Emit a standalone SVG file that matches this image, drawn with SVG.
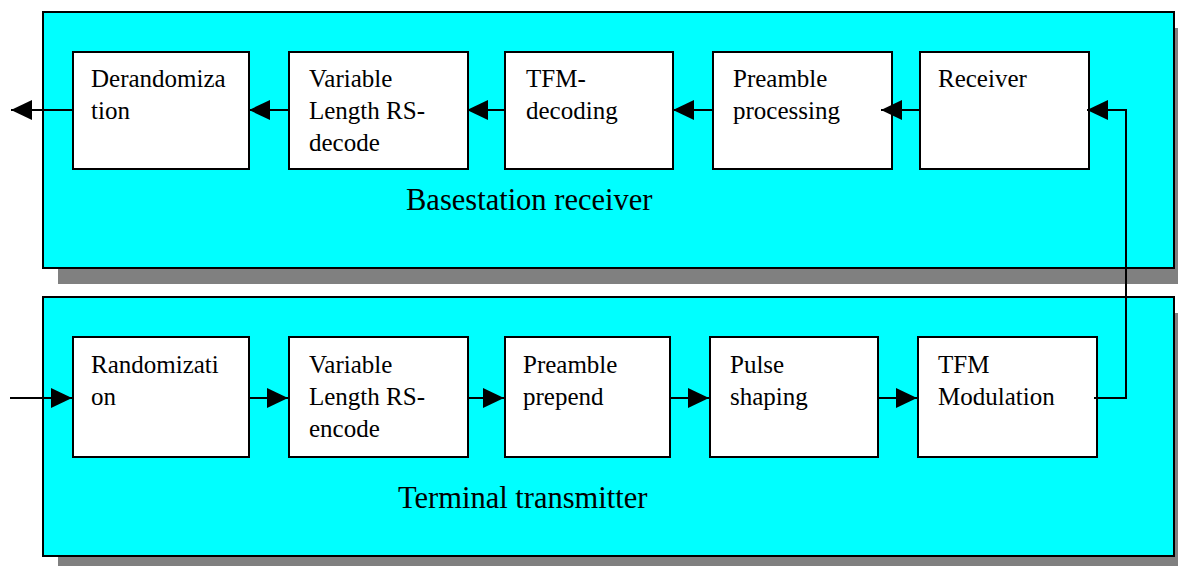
<svg xmlns="http://www.w3.org/2000/svg" width="1178" height="566" viewBox="0 0 1178 566">
<style>
.shadow{fill:#808080;stroke:none}
.panel{fill:#00FFFF;stroke:#000;stroke-width:2}
.box{fill:#fff;stroke:#000;stroke-width:2}
.t{font-size:25px;fill:#000}
.pl{font-size:30.5px;fill:#000}
.c{fill:none;stroke:#000;stroke-width:2}
</style>
<defs>
<marker id="ah" markerUnits="userSpaceOnUse" markerWidth="21" markerHeight="20" refX="21" refY="10" orient="auto" viewBox="0 0 21 20">
<path d="M0,0 L21,10 L0,20 z" fill="#000"/>
</marker>
</defs>
<rect width="1178" height="566" fill="#fff"/>
<g font-family="Liberation Serif, Tinos, DejaVu Serif, serif">
<g id="panel-receiver">
<rect class="shadow" x="58" y="28" width="1131" height="256"/>
<rect class="panel" x="43" y="12" width="1131" height="256"/>
<text class="pl" x="406" y="210">Basestation receiver</text>
</g>
<g id="panel-transmitter">
<rect class="shadow" x="58" y="313" width="1131" height="259"/>
<rect class="panel" x="43" y="297" width="1131" height="259"/>
<text class="pl" x="398" y="508">Terminal transmitter</text>
</g>
<g id="derandomization">
<rect class="box" x="73" y="52" width="176" height="117"/>
<text class="t" x="91" y="87">Derandomiza</text>
<text class="t" x="91" y="119">tion</text>
</g>
<g id="rs-decode">
<rect class="box" x="289" y="52" width="179" height="117"/>
<text class="t" x="309" y="87">Variable</text>
<text class="t" x="309" y="119">Length RS-</text>
<text class="t" x="309" y="151">decode</text>
</g>
<g id="tfm-decoding">
<rect class="box" x="505" y="52" width="168" height="117"/>
<text class="t" x="526" y="87">TFM-</text>
<text class="t" x="526" y="119">decoding</text>
</g>
<g id="preamble-processing">
<rect class="box" x="713" y="52" width="179" height="117"/>
<text class="t" x="733" y="87">Preamble</text>
<text class="t" x="733" y="119">processing</text>
</g>
<g id="receiver">
<rect class="box" x="920" y="52" width="169" height="117"/>
<text class="t" x="938" y="87">Receiver</text>
</g>
<g id="randomization">
<rect class="box" x="73" y="337" width="176" height="120"/>
<text class="t" x="91" y="373">Randomizati</text>
<text class="t" x="91" y="405">on</text>
</g>
<g id="rs-encode">
<rect class="box" x="289" y="337" width="179" height="120"/>
<text class="t" x="309" y="373">Variable</text>
<text class="t" x="309" y="405">Length RS-</text>
<text class="t" x="309" y="437">encode</text>
</g>
<g id="preamble-prepend">
<rect class="box" x="505" y="337" width="165" height="120"/>
<text class="t" x="523" y="373">Preamble</text>
<text class="t" x="523" y="405">prepend</text>
</g>
<g id="pulse-shaping">
<rect class="box" x="710" y="337" width="168" height="120"/>
<text class="t" x="730" y="373">Pulse</text>
<text class="t" x="730" y="405">shaping</text>
</g>
<g id="tfm-modulation">
<rect class="box" x="918" y="337" width="179" height="120"/>
<text class="t" x="938" y="373">TFM</text>
<text class="t" x="938" y="405">Modulation</text>
</g>
</g>
<g id="connectors">
<line class="c" x1="920" y1="110" x2="881" y2="110" marker-end="url(#ah)"/>
<line class="c" x1="713" y1="110" x2="673" y2="110" marker-end="url(#ah)"/>
<line class="c" x1="505" y1="110" x2="467" y2="110" marker-end="url(#ah)"/>
<line class="c" x1="289" y1="110" x2="249" y2="110" marker-end="url(#ah)"/>
<line class="c" x1="73" y1="110" x2="11" y2="110" marker-end="url(#ah)"/>
<line class="c" x1="10" y1="398" x2="72" y2="398" marker-end="url(#ah)"/>
<line class="c" x1="249" y1="398" x2="288" y2="398" marker-end="url(#ah)"/>
<line class="c" x1="468" y1="398" x2="504" y2="398" marker-end="url(#ah)"/>
<line class="c" x1="670" y1="398" x2="709" y2="398" marker-end="url(#ah)"/>
<line class="c" x1="878" y1="398" x2="917" y2="398" marker-end="url(#ah)"/>
<polyline class="c" points="1094,398 1126,398 1126,110 1087,110" marker-end="url(#ah)"/>
</g>
</svg>
